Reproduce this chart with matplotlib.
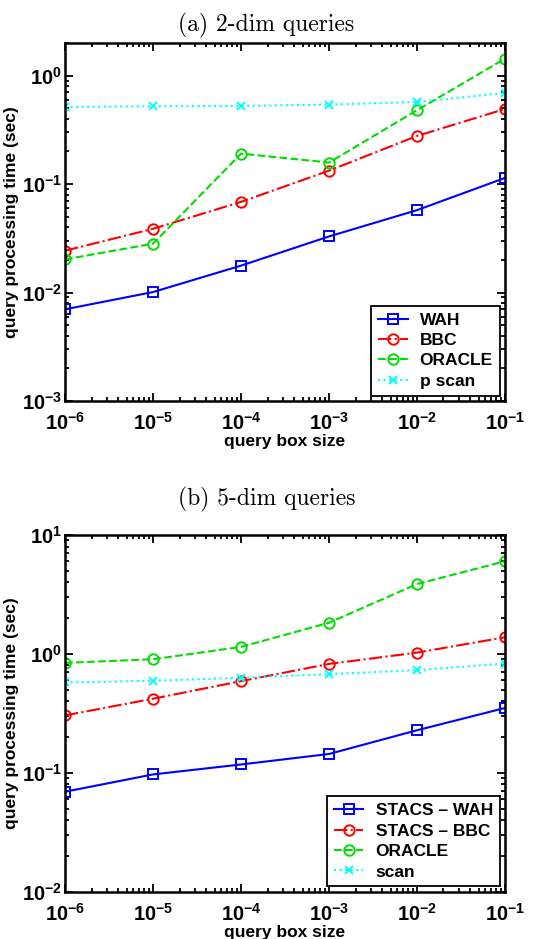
import math
import matplotlib
matplotlib.use('Agg')
import matplotlib.pyplot as plt
from matplotlib.ticker import LogLocator, FixedLocator, FuncFormatter, NullFormatter

# DATA
box_size = [1e-6, 1e-5, 1e-4, 1e-3, 1e-2, 1e-1]

# (a) 2-dim queries
wah_2d = [0.0070, 0.0101, 0.0177, 0.0329, 0.0575, 0.114]
bbc_2d = [0.0243, 0.0387, 0.0685, 0.133, 0.278, 0.493]
oracle_2d = [0.0202, 0.0282, 0.191, 0.158, 0.480, 1.435]
scan_2d = [0.515, 0.522, 0.526, 0.541, 0.572, 0.692]

# (b) 5-dim queries
wah_5d = [0.0693, 0.0969, 0.1175, 0.144, 0.228, 0.351]
bbc_5d = [0.304, 0.420, 0.590, 0.824, 1.026, 1.38]
oracle_5d = [0.841, 0.902, 1.146, 1.83, 3.87, 6.02]
scan_5d = [0.575, 0.594, 0.630, 0.676, 0.730, 0.830]

labels_a = ['WAH', 'BBC', 'ORACLE', 'p scan']
labels_b = ['STACS \u2013 WAH', 'STACS \u2013 BBC', 'ORACLE', 'scan']

# STYLE
plt.rcParams['font.family'] = ['Liberation Sans', 'DejaVu Sans']
plt.rcParams['font.weight'] = 'bold'
plt.rcParams['mathtext.fontset'] = 'custom'
plt.rcParams['mathtext.rm'] = 'Liberation Sans:bold'
plt.rcParams['mathtext.bf'] = 'Liberation Sans:bold'
plt.rcParams['mathtext.it'] = 'Liberation Sans:bold'

green = '#00dd00'
styles = [
    dict(color='blue', ls='-', marker='s', ms=6.5),
    dict(color='red', ls='-.', marker='o', ms=7.5),
    dict(color=green, ls='--', marker='o', ms=7.5),
    dict(color='cyan', ls=':', marker='x', ms=6),
]


def pow_fmt(v, pos):
    e = int(round(math.log10(v)))
    return r'$10^{%d}$' % e


def draw(ax, series, labels, ylim, title, title_y):
    for ys, lab, st in zip(series, labels, styles):
        ax.plot(box_size, ys, color=st['color'], ls=st['ls'], marker=st['marker'],
                ms=st['ms'], mfc='none', mew=1.4, lw=1.5, label=lab)
    ax.set_xscale('log')
    ax.set_yscale('log')
    ax.set_xlim(1e-6, 1e-1)
    ax.set_ylim(*ylim)
    ax.xaxis.set_major_locator(FixedLocator(box_size))
    ax.xaxis.set_minor_locator(LogLocator(base=10, subs=range(2, 10), numticks=20))
    ax.yaxis.set_major_locator(LogLocator(base=10, numticks=10))
    ax.yaxis.set_minor_locator(LogLocator(base=10, subs=range(2, 10), numticks=20))
    ax.xaxis.set_major_formatter(FuncFormatter(pow_fmt))
    ax.yaxis.set_major_formatter(FuncFormatter(pow_fmt))
    ax.xaxis.set_minor_formatter(NullFormatter())
    ax.yaxis.set_minor_formatter(NullFormatter())
    ax.tick_params(which='both', direction='in', top=True, right=True, width=1.3)
    ax.tick_params(which='major', length=6, labelsize=14.5)
    ax.tick_params(axis='x', which='major', pad=8)
    ax.tick_params(axis='y', which='major', pad=2)
    ax.tick_params(which='minor', length=3)
    for s in ax.spines.values():
        s.set_linewidth(1.8)
    ax.set_xlabel('query box size', fontsize=12.5, fontweight='bold', labelpad=0)
    ax.set_ylabel('query processing time (sec)', fontsize=12.5, fontweight='bold')
    ax.yaxis.set_label_coords(-0.104, 0.5)
    leg = ax.legend(loc='lower right', fontsize=12.5, fancybox=False, edgecolor='black',
                    framealpha=1, handlelength=1.7, handletextpad=0.7,
                    borderaxespad=0.3, labelspacing=0.3, borderpad=0.4)
    leg.get_frame().set_linewidth(1.3)
    fig.text(0.493, title_y, title, ha='center', va='center', fontsize=17,
             family='cmr10', fontweight='normal')


fig = plt.figure(figsize=(5.4, 9.39), dpi=100)
ax1 = fig.add_axes([0.1204, 0.5730, 0.8148, 0.3812])
ax2 = fig.add_axes([0.1204, 0.0504, 0.8148, 0.3798])

draw(ax1, [wah_2d, bbc_2d, oracle_2d, scan_2d], labels_a, (1e-3, 2.0),
     '(a) 2-dim queries', 1 - 25 / 939)
draw(ax2, [wah_5d, bbc_5d, oracle_5d, scan_5d], labels_b, (1e-2, 10.0),
     '(b) 5-dim queries', 1 - 499 / 939)

fig.savefig('out.png', dpi=100)
